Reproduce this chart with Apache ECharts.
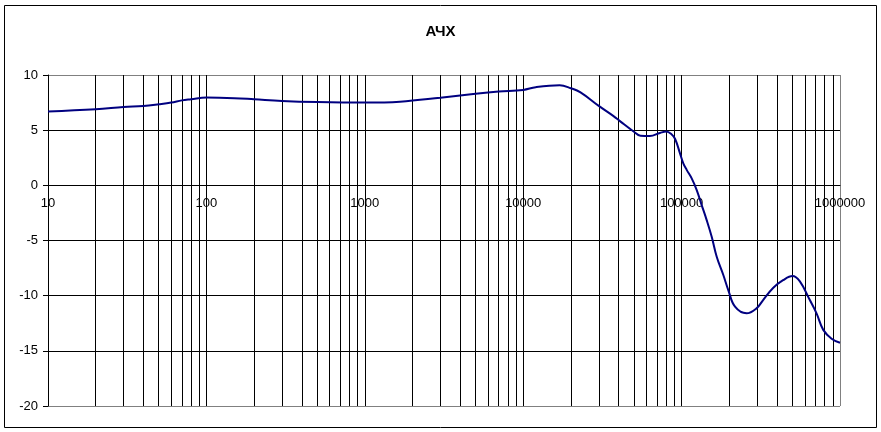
<!DOCTYPE html>
<html>
<head>
<meta charset="utf-8">
<script src="https://cdn.jsdelivr.net/npm/echarts@6/dist/echarts.min.js"></script>
<style>
html,body{margin:0;padding:0;background:#fff;}
#c{width:881px;height:432px;}
</style>
</head>
<body>
<div id="c"></div>
<script>
var titleText = 'АЧХ';
var freqs = [10,20,30,40,50,60,70,80,100,150,200,300,500,1000,1667,3000,5000,7000,10000,12000,17000,20000,23000,30000,37000,41000,50000,55000,63000,73000,80000,86000,91000,97700,102500,107700,115800,124600,133900,144000,154900,166600,183400,197100,217400,257000,297000,327000,378000,437000,501000,558000,645000,711000,784000,885000,1000000];
var gains = [6.7,6.9,7.1,7.2,7.35,7.5,7.7,7.8,7.95,7.9,7.8,7.65,7.55,7.5,7.58,7.94,8.3,8.5,8.65,8.9,9.07,8.8,8.43,7.2,6.3,5.8,4.86,4.5,4.47,4.75,4.88,4.65,4.2,2.9,2.0,1.4,0.63,-0.43,-1.79,-3.15,-4.66,-6.47,-8.13,-9.49,-11.0,-11.6,-11.15,-10.4,-9.3,-8.6,-8.22,-8.7,-10.4,-11.6,-13.1,-13.9,-14.27];
var minorGridFreqs = [20,30,40,50,60,70,80,90,200,300,400,500,600,700,800,900,2000,3000,4000,5000,6000,7000,8000,9000,20000,30000,40000,50000,60000,70000,80000,90000,200000,300000,400000,500000,600000,700000,800000,900000];
var yMin = -20, yMax = 10, yStep = 5;
var xMin = 10, xMax = 1000000;

var chart = echarts.init(document.getElementById('c'), null, {renderer:'canvas'});
var font = 'Liberation Sans, Arial, sans-serif';
var option = {
  animation: false,
  backgroundColor: '#ffffff',
  title: {
    text: titleText, left: 'center', top: 19,
    textStyle: {fontFamily: font, fontSize: 15, fontWeight: 'bold', color: '#000'}
  },
  grid: {left: 48, right: 41, top: 75, bottom: 26, containLabel: false},
  xAxis: {
    type: 'log', logBase: 10, min: xMin, max: xMax, position: 'bottom', offset: 0,
    axisLine: {show: true, onZero: false, lineStyle: {color: '#000', width: 1}},
    axisTick: {show: false},
    axisLabel: {
      fontFamily: font, fontSize: 13, color: '#000', margin: 12,
      formatter: function (v) { return String(Math.round(v)); }
    },
    splitLine: {show: true, lineStyle: {color: ['#000','#000','#000','#000','#000','#808080'], width: 1}},
    minorTick: {show: false}
  },
  yAxis: {
    type: 'value', min: yMin, max: yMax, interval: yStep,
    axisLine: {show: true, onZero: false, lineStyle: {color: '#000', width: 1}},
    axisTick: {show: true, inside: false, length: 5, lineStyle: {color: '#000'}},
    axisLabel: {fontFamily: font, fontSize: 13, color: '#000', margin: 10},
    splitLine: {show: true, lineStyle: {color: ['#808080','#000','#000','#000','#000','#000','#808080'], width: 1}}
  },
  graphic: [{
    type: 'rect', shape: {x: 4.5, y: 5.5, width: 872, height: 422},
    style: {fill: 'none', stroke: '#000', lineWidth: 1}, z: 0, silent: true
  }],
  series: [
    {
      type: 'line', data: [], z: 1, silent: true,
      markLine: {
        silent: true, symbol: ['none','none'], z: 1,
        label: {show: false},
        lineStyle: {color: '#000', width: 1, type: 'solid'},
        data: minorGridFreqs.map(function (f) { return {xAxis: f}; })
      }
    },
    {
      type: 'line', z: 3,
      data: freqs.map(function (f, i) { return [f, gains[i]]; }),
      smooth: 0.4, showSymbol: false, symbol: 'none',
      lineStyle: {color: '#000080', width: 2},
      itemStyle: {color: '#000080'}
    }
  ]
};
chart.setOption(option);
// place the x axis (line + labels) at y = 0, as in the reference
var yZero = chart.convertToPixel({yAxisIndex: 0}, 0);
var yBottom = chart.convertToPixel({yAxisIndex: 0}, yMin);
chart.setOption({xAxis: {offset: yZero - yBottom}});
</script>
</body>
</html>
